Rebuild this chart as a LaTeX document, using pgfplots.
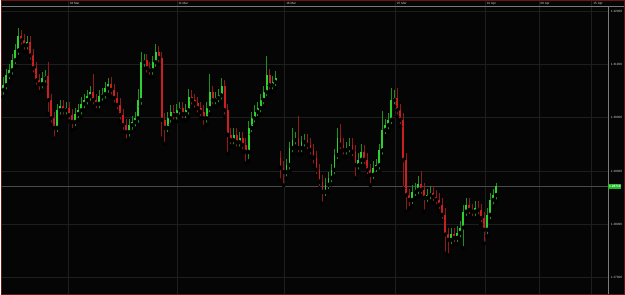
\documentclass[border=0pt]{standalone}
\usepackage{fontspec}
\setmainfont{Liberation Sans}
\usepackage{pgfplots}
\usepackage{pgfplotstable}
\pgfplotsset{compat=1.18}
\definecolor{bg}{HTML}{050505}
\definecolor{gridc}{HTML}{1E1E1E}
\definecolor{upc}{HTML}{2ED22E}
\definecolor{dnc}{HTML}{CC2020}
\definecolor{upw}{HTML}{1F8F1F}
\definecolor{dnw}{HTML}{8F1A1A}
\definecolor{bord}{HTML}{6A1414}
\definecolor{sep}{HTML}{7A7A7A}
\definecolor{lblc}{HTML}{D0D0D0}
\definecolor{curl}{HTML}{4A4A4A}
\definecolor{boxc}{HTML}{22B822}
\tikzset{lblnode/.style={font=\fontsize{3.1}{3.5}\selectfont, text=lblc, inner sep=0pt, anchor=west}}

\pgfplotstableread{
x o h l c
2 1.3052 1.3077 1.3039 1.3061
5 1.3061 1.3092 1.3049 1.3080
8 1.3080 1.3101 1.3068 1.3089
11 1.3089 1.3120 1.3077 1.3108
14 1.3108 1.3138 1.3096 1.3126
17 1.3126 1.3169 1.3114 1.3153
20 1.3153 1.3165 1.3133 1.3145
23 1.3145 1.3157 1.3124 1.3136
26 1.3136 1.3153 1.3124 1.3141
29 1.3141 1.3153 1.3105 1.3117
32 1.3117 1.3129 1.3081 1.3093
35 1.3093 1.3105 1.3058 1.3070
38 1.3070 1.3082 1.3048 1.3063
41 1.3063 1.3086 1.3051 1.3074
44 1.3074 1.3090 1.3062 1.3078
47 1.3078 1.3105 1.3007 1.3033
50 1.3033 1.3045 1.2987 1.2999
53 1.2999 1.3011 1.2961 1.2981
56 1.2981 1.3026 1.2969 1.3014
59 1.3014 1.3034 1.3002 1.3022
62 1.3022 1.3034 1.3002 1.3014
65 1.3014 1.3030 1.3002 1.3018
68 1.3018 1.3030 1.2993 1.3005
71 1.3005 1.3017 1.2977 1.2992
74 1.2992 1.3019 1.2980 1.3007
77 1.3007 1.3026 1.2995 1.3014
80 1.3014 1.3038 1.3002 1.3026
83 1.3026 1.3045 1.3014 1.3033
86 1.3033 1.3052 1.3021 1.3040
89 1.3040 1.3060 1.3028 1.3048
92 1.3048 1.3081 1.3021 1.3033
95 1.3033 1.3045 1.3014 1.3026
98 1.3026 1.3052 1.3014 1.3040
101 1.3040 1.3056 1.3028 1.3044
104 1.3044 1.3067 1.3032 1.3055
107 1.3055 1.3074 1.3043 1.3063
110 1.3063 1.3077 1.3040 1.3052
113 1.3052 1.3064 1.3025 1.3037
116 1.3037 1.3049 1.3012 1.3024
119 1.3024 1.3036 1.2993 1.3005
122 1.3005 1.3017 1.2974 1.2986
125 1.2986 1.2998 1.2957 1.2973
128 1.2973 1.2998 1.2961 1.2986
131 1.2986 1.3004 1.2974 1.2992
134 1.2992 1.3011 1.2980 1.2999
137 1.2999 1.3053 1.2987 1.3033
140 1.3033 1.3124 1.3021 1.3104
143 1.3104 1.3120 1.3092 1.3108
146 1.3108 1.3120 1.3081 1.3093
149 1.3093 1.3105 1.3077 1.3089
152 1.3089 1.3116 1.3077 1.3104
155 1.3104 1.3139 1.3092 1.3123
158 1.3123 1.3135 1.3100 1.3112
161 1.3112 1.3124 1.2961 1.2996
164 1.2996 1.3008 1.2951 1.2981
167 1.2981 1.3011 1.2969 1.2999
170 1.2999 1.3023 1.2987 1.3011
173 1.3011 1.3023 1.2993 1.3005
176 1.3005 1.3026 1.2993 1.3014
179 1.3014 1.3030 1.3002 1.3018
182 1.3018 1.3030 1.2995 1.3007
185 1.3007 1.3026 1.2995 1.3014
188 1.3014 1.3053 1.3002 1.3039
191 1.3039 1.3051 1.3021 1.3033
194 1.3033 1.3045 1.3015 1.3027
197 1.3027 1.3039 1.3006 1.3018
200 1.3018 1.3030 1.2999 1.3011
203 1.3011 1.3023 1.2983 1.2999
206 1.2999 1.3030 1.2987 1.3018
209 1.3018 1.3081 1.3006 1.3048
212 1.3048 1.3060 1.3021 1.3033
215 1.3033 1.3049 1.3021 1.3037
218 1.3037 1.3054 1.3025 1.3042
221 1.3042 1.3074 1.3030 1.3059
224 1.3059 1.3071 1.3002 1.3014
227 1.3014 1.3026 1.2932 1.2968
230 1.2968 1.2980 1.2946 1.2958
233 1.2958 1.2980 1.2946 1.2968
236 1.2968 1.2980 1.2942 1.2954
239 1.2954 1.2974 1.2942 1.2962
242 1.2962 1.2974 1.2937 1.2949
245 1.2949 1.2961 1.2914 1.2936
248 1.2936 1.2993 1.2918 1.2981
251 1.2981 1.3011 1.2969 1.2999
254 1.2999 1.3023 1.2987 1.3011
257 1.3011 1.3030 1.2999 1.3018
260 1.3018 1.3045 1.3006 1.3033
263 1.3033 1.3060 1.3021 1.3048
266 1.3048 1.3115 1.3036 1.3080
269 1.3080 1.3092 1.3049 1.3061
272 1.3061 1.3079 1.3049 1.3067
275 1.3067 1.3087 1.3055 1.3074
280 1.2925 1.2937 1.2882 1.2906
283 1.2906 1.2918 1.2873 1.2898
286 1.2898 1.2923 1.2886 1.2911
289 1.2911 1.2955 1.2899 1.2943
292 1.2943 1.2980 1.2931 1.2958
295 1.2958 1.2974 1.2946 1.2962
298 1.2962 1.3003 1.2931 1.2943
301 1.2943 1.2966 1.2931 1.2954
304 1.2954 1.2970 1.2942 1.2958
307 1.2958 1.2970 1.2937 1.2949
310 1.2949 1.2961 1.2927 1.2939
313 1.2939 1.2951 1.2910 1.2925
316 1.2925 1.2937 1.2890 1.2902
319 1.2902 1.2914 1.2868 1.2880
322 1.2880 1.2892 1.2839 1.2861
325 1.2861 1.2886 1.2849 1.2874
328 1.2874 1.2899 1.2862 1.2887
331 1.2887 1.2914 1.2875 1.2902
334 1.2902 1.2942 1.2890 1.2930
337 1.2930 1.2980 1.2918 1.2962
340 1.2962 1.2988 1.2937 1.2949
343 1.2949 1.2961 1.2927 1.2939
346 1.2939 1.2955 1.2927 1.2943
349 1.2943 1.2961 1.2931 1.2949
352 1.2949 1.2961 1.2924 1.2936
355 1.2936 1.2948 1.2886 1.2911
358 1.2911 1.2933 1.2899 1.2921
361 1.2921 1.2950 1.2909 1.2936
364 1.2936 1.2948 1.2909 1.2921
367 1.2921 1.2933 1.2890 1.2902
370 1.2902 1.2914 1.2873 1.2893
373 1.2893 1.2918 1.2881 1.2906
376 1.2906 1.2923 1.2894 1.2911
379 1.2911 1.2951 1.2899 1.2939
382 1.2939 1.3012 1.2927 1.2977
385 1.2977 1.2998 1.2965 1.2986
388 1.2986 1.3008 1.2974 1.2996
391 1.2996 1.3055 1.2984 1.3033
394 1.3033 1.3051 1.3021 1.3037
397 1.3037 1.3055 1.3002 1.3014
400 1.3014 1.3026 1.2984 1.2996
403 1.2996 1.3008 1.2867 1.2921
406 1.2921 1.2933 1.2824 1.2855
409 1.2855 1.2867 1.2830 1.2846
412 1.2846 1.2873 1.2834 1.2861
415 1.2861 1.2877 1.2849 1.2865
418 1.2865 1.2890 1.2853 1.2876
421 1.2876 1.2900 1.2853 1.2865
424 1.2865 1.2877 1.2824 1.2850
427 1.2850 1.2867 1.2838 1.2855
430 1.2855 1.2871 1.2843 1.2859
433 1.2859 1.2871 1.2840 1.2852
436 1.2852 1.2864 1.2834 1.2846
439 1.2846 1.2858 1.2825 1.2837
442 1.2837 1.2849 1.2806 1.2818
445 1.2818 1.2830 1.2745 1.2781
448 1.2781 1.2793 1.2742 1.2771
451 1.2771 1.2793 1.2759 1.2781
454 1.2781 1.2793 1.2763 1.2775
457 1.2775 1.2796 1.2763 1.2784
460 1.2784 1.2806 1.2772 1.2794
463 1.2794 1.2836 1.2755 1.2824
466 1.2824 1.2849 1.2812 1.2837
469 1.2837 1.2849 1.2815 1.2827
472 1.2827 1.2839 1.2812 1.2824
475 1.2824 1.2843 1.2812 1.2831
478 1.2831 1.2843 1.2815 1.2827
481 1.2827 1.2839 1.2800 1.2812
484 1.2812 1.2824 1.2764 1.2790
487 1.2790 1.2830 1.2778 1.2818
490 1.2818 1.2858 1.2806 1.2846
493 1.2846 1.2867 1.2834 1.2855
496 1.2855 1.2877 1.2843 1.2871
}\candles

\begin{document}
\begin{tikzpicture}
\fill[bg] (0,0) rectangle (625bp,295bp);
\begin{axis}[
  at={(0,0)}, anchor=south west,
  scale only axis, width=625bp, height=295bp,
  xmin=0, xmax=625, ymin=1.26683, ymax=1.32200,
  axis lines=none, xtick=\empty, ytick=\empty,
  clip=false,
]
% vertical grid
\pgfplotsinvokeforeach{67,176,284,395,485,539,592}{
  \draw[gridc, line width=0.7bp] (axis cs:#1,1.26683) -- (axis cs:#1,1.32200);
}
% horizontal grid
\pgfplotsinvokeforeach{1.32,1.31,1.30,1.29,1.28,1.27}{
  \draw[gridc, line width=0.7bp] (axis cs:0,#1) -- (axis cs:609,#1);
}
% separators
\draw[sep, line width=0.6bp] (axis cs:0,1.32088) -- (axis cs:625,1.32088);
\draw[sep, line width=0.6bp] (axis cs:609,1.32088) -- (axis cs:609,1.26683);
% current price line
\draw[curl, line width=0.9bp] (axis cs:0,1.2871) -- (axis cs:609,1.2871);

% up candles: wicks then bodies
\addplot[only marks, mark=none,
  restrict expr to domain={\thisrow{c}-\thisrow{o}}{0:1},
  error bars/.cd, y dir=plus, y explicit, error mark=none,
  error bar style={draw=upw, line width=0.9bp}]
  table[x=x, y=l, y error expr=\thisrow{h}-\thisrow{l}] {\candles};
\addplot[only marks, mark=none,
  restrict expr to domain={\thisrow{c}-\thisrow{o}}{0:1},
  error bars/.cd, y dir=plus, y explicit, error mark=none,
  error bar style={draw=upc, line width=1.8bp, line cap=butt}]
  table[x=x, y=o, y error expr=\thisrow{c}-\thisrow{o}] {\candles};
% down candles
\addplot[only marks, mark=none,
  restrict expr to domain={\thisrow{o}-\thisrow{c}}{0.00001:1},
  error bars/.cd, y dir=plus, y explicit, error mark=none,
  error bar style={draw=dnw, line width=0.9bp}]
  table[x=x, y=l, y error expr=\thisrow{h}-\thisrow{l}] {\candles};
\addplot[only marks, mark=none,
  restrict expr to domain={\thisrow{o}-\thisrow{c}}{0.00001:1},
  error bars/.cd, y dir=plus, y explicit, error mark=none,
  error bar style={draw=dnc, line width=1.8bp, line cap=butt}]
  table[x=x, y=c, y error expr=\thisrow{o}-\thisrow{c}] {\candles};

% date labels
\node[lblnode] at (axis cs:68.5,1.32144) {04 Mar};
\node[lblnode] at (axis cs:177.5,1.32144) {11 Mar};
\node[lblnode] at (axis cs:285.5,1.32144) {18 Mar};
\node[lblnode] at (axis cs:396.5,1.32144) {25 Mar};
\node[lblnode] at (axis cs:486.5,1.32144) {01 Apr};
\node[lblnode] at (axis cs:540.5,1.32144) {08 Apr};
\node[lblnode] at (axis cs:593.5,1.32144) {15 Apr};
% price labels
\node[lblnode] at (axis cs:611,1.32) {1.32000};
\node[lblnode] at (axis cs:611,1.31) {1.31000};
\node[lblnode] at (axis cs:611,1.30) {1.30000};
\node[lblnode] at (axis cs:611,1.29) {1.29000};
\node[lblnode] at (axis cs:611,1.28) {1.28000};
\node[lblnode] at (axis cs:611,1.27) {1.27000};
\node[anchor=west, fill=boxc, text=white, inner xsep=0.7bp, inner ysep=1.1bp,
  font=\fontsize{3.2}{3.5}\selectfont\bfseries] at (axis cs:608.5,1.2871) {1.28710};
% border
\draw[bord, line width=1bp] ([xshift=0.5bp,yshift=0.5bp]rel axis cs:0,0) rectangle ([xshift=-0.5bp,yshift=-0.5bp]rel axis cs:1,1);
\end{axis}
\end{tikzpicture}
\end{document}
